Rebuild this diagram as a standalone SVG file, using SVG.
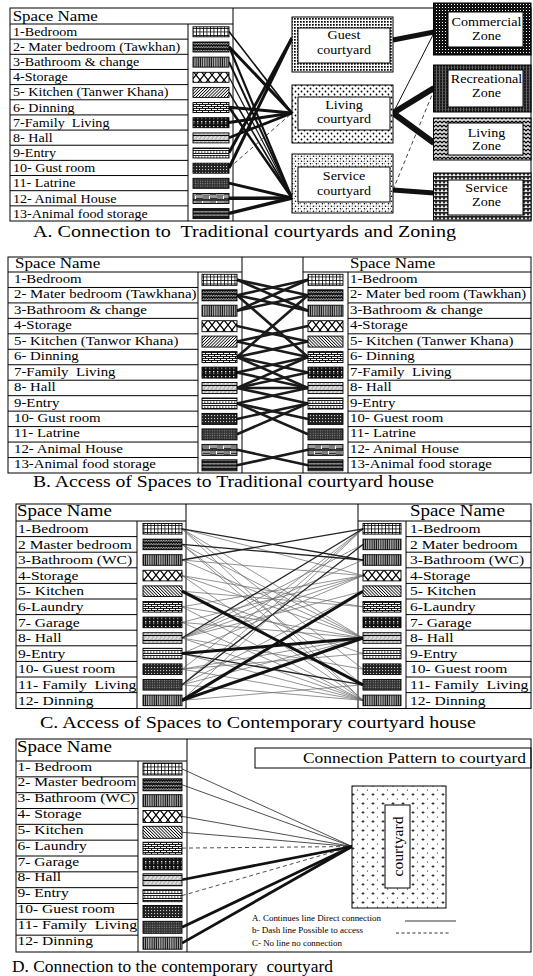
<svg xmlns="http://www.w3.org/2000/svg" width="533" height="976" viewBox="0 0 533 976" font-family="'Liberation Serif', 'Times New Roman', serif">
<style>
.t{font-family:'Liberation Serif','Times New Roman',serif;fill:#000}
.r12{font-size:12.5px}
.r13{font-size:13.5px}
.h15{font-size:15px}
.h16{font-size:16px}
.cap{font-size:16px}
.nm{font-size:12.5px;text-anchor:middle}
.lg{font-size:8px}
.ln{stroke:#000;stroke-width:1;fill:none}
.sw{stroke:#000;stroke-width:.9}
.box{stroke:#000;stroke-width:1}
.inner{fill:#fff;stroke:#000;stroke-width:1}
.ca line{stroke:#111}
.cb line{stroke:#1a1a1a;stroke-width:2.6}
.dash{stroke-dasharray:4 3}
</style>
<defs>
<pattern id="pBed" width="3.5" height="3.5" patternUnits="userSpaceOnUse"><rect width="3.5" height="3.5" fill="#fff"/><path d="M0 .4H3.5M.4 0V3.5" stroke="#000" stroke-width=".8"/></pattern>
<pattern id="pMas" width="5" height="3.5" patternUnits="userSpaceOnUse"><rect width="5" height="3.5" fill="#111"/><path d="M0 2.5L1.2 1L2.5 2.5L3.7 1L5 2.5" fill="none" stroke="#fff" stroke-width=".7"/></pattern>
<pattern id="pBath" width="2.2" height="12" patternUnits="userSpaceOnUse"><rect width="2.2" height="12" fill="#111"/><rect x="1" width=".8" height="12" fill="#fff"/></pattern>
<pattern id="pSto" width="8" height="10" patternUnits="userSpaceOnUse"><rect width="8" height="10" fill="#fff"/><path d="M0 0L8 10M8 0L0 10" stroke="#000" stroke-width="1.2"/></pattern>
<pattern id="pKit" width="2.2" height="2.2" patternUnits="userSpaceOnUse" patternTransform="rotate(45)"><rect width="2.2" height="2.2" fill="#fff"/><rect width=".8" height="2.2" fill="#000"/></pattern>
<pattern id="pKit2" width="2.2" height="2.2" patternUnits="userSpaceOnUse" patternTransform="rotate(-45)"><rect width="2.2" height="2.2" fill="#fff"/><rect width=".8" height="2.2" fill="#000"/></pattern>
<pattern id="pDin" width="6" height="4" patternUnits="userSpaceOnUse"><rect width="6" height="4" fill="#fff"/><path d="M0 .5H6M0 2.5H6M1.5 .5V2.5M4.5 2.5V4.5" fill="none" stroke="#000" stroke-width=".9"/></pattern>
<pattern id="pFam" width="4" height="5" patternUnits="userSpaceOnUse"><rect width="4" height="5" fill="#111"/><rect x="1" y="1" width="1.4" height="1.4" fill="#ddd"/><rect x="1" y="3.2" width="1.4" height="1" fill="#888"/></pattern>
<pattern id="pHall" width="8" height="5" patternUnits="userSpaceOnUse"><rect width="8" height="5" fill="#bbb"/><path d="M0 .5H8" stroke="#000"/><path d="M1 4.2L4 1.5M5 4.2L8 1.5" stroke="#fff" stroke-width="1"/></pattern>
<pattern id="pEnt" width="3" height="5" patternUnits="userSpaceOnUse"><rect width="3" height="5" fill="#fff"/><path d="M0 .5H3M0 3.5H3" stroke="#000" stroke-width=".9"/><rect y="1.6" width="1.5" height=".9" fill="#000"/></pattern>
<pattern id="pGue" width="3" height="3" patternUnits="userSpaceOnUse"><rect width="3" height="3" fill="#222"/><rect x="1" y="1" width="1.1" height="1.1" fill="#ccc"/></pattern>
<pattern id="pLat" width="2.4" height="2.4" patternUnits="userSpaceOnUse"><rect width="2.4" height="2.4" fill="#333"/><circle cx="1.2" cy="1.2" r=".55" fill="#999"/></pattern>
<pattern id="pAni" width="14" height="10" patternUnits="userSpaceOnUse"><rect width="14" height="10" fill="#fff"/><path d="M1 1V5M3 1V5M5 1V5M8 5.5V9.5M10 5.5V9.5M12 5.5V9.5" stroke="#000"/><path d="M0 .5H14M0 5H14M0 9.5H14M7 2H14M7 3.5H14M0 7H7M0 8.5H7" stroke="#000" stroke-width=".8"/></pattern>
<pattern id="pFood" width="4" height="3.5" patternUnits="userSpaceOnUse"><rect width="4" height="3.5" fill="#111"/><path d="M0 2.5L1 1L2 2.5L3 1L4 2.5" stroke="#fff" stroke-width=".6" fill="none"/></pattern>
<pattern id="cG" width="3" height="3" patternUnits="userSpaceOnUse"><rect width="3" height="3" fill="#fff"/><rect width="1.7" height="1.7" fill="#000"/></pattern>
<pattern id="cL" width="6" height="6" patternUnits="userSpaceOnUse"><rect width="6" height="6" fill="#fff"/><circle cx="1.5" cy="1.5" r=".9" fill="#000"/><circle cx="4.5" cy="4.5" r=".9" fill="#000"/></pattern>
<pattern id="cS" width="6" height="5" patternUnits="userSpaceOnUse"><rect width="6" height="5" fill="#fff"/><circle cx="1.5" cy="1.2" r=".8" fill="#000"/><circle cx="4.5" cy="3.7" r=".8" fill="#000"/><path d="M3.5 1.2H5M0 3.7H1" stroke="#000" stroke-width=".5"/></pattern>
<pattern id="zC" width="3" height="3" patternUnits="userSpaceOnUse"><rect width="3" height="3" fill="#111"/><rect x="1" y="1" width="1" height="1" fill="#fff"/></pattern>
<pattern id="zR" width="3" height="3" patternUnits="userSpaceOnUse"><rect width="3" height="3" fill="#1a1a1a"/><rect x="1" width=".8" height="3" fill="#777"/><rect y="1" width="3" height=".5" fill="#555"/></pattern>
<pattern id="zL" width="4" height="4" patternUnits="userSpaceOnUse"><rect width="4" height="4" fill="#ddd"/><path d="M0 1L2 3L4 1" stroke="#000" stroke-width="1.2" fill="none"/></pattern>
<pattern id="zS" width="4" height="4" patternUnits="userSpaceOnUse"><rect width="4" height="4" fill="#222"/><path d="M0 4L2 1L4 4Z" fill="#eee"/></pattern>
<pattern id="cD" width="10" height="9" patternUnits="userSpaceOnUse"><rect width="10" height="9" fill="#fff"/><path d="M1.5 2.5H4.5M3 1V4" stroke="#000" stroke-width=".7"/><circle cx="7.5" cy="7" r=".6" fill="#000"/></pattern>
</defs>
<rect width="533" height="976" fill="#fff"/>

<!-- ============ SECTION A ============ -->
<g id="secA-frame">
<rect class="ln" x="10" y="8" width="521" height="213"/>
<path class="ln" d="M188 24V221M233 8V221M10 24H233M10 39.15H188M10 54.31H188M10 69.46H188M10 84.62H188M10 99.77H188M10 114.92H188M10 130.08H188M10 145.23H188M10 160.38H188M10 175.54H188M10 190.69H188M10 205.85H188"/>
<text class="t h15" transform="translate(12.7 20.7) scale(1.13 1)">Space Name</text>
</g>
<g id="secA-connectors" class="ca">
<line x1="229" y1="31.6" x2="292" y2="113" stroke-width="1.6"/>
<line x1="229" y1="46.7" x2="292" y2="113" stroke-width="3"/>
<line x1="229" y1="46.7" x2="292" y2="198" stroke-width="2.2"/>
<line x1="229" y1="61.9" x2="292" y2="198" stroke-width="2"/>
<line x1="229" y1="77.0" x2="292" y2="198" stroke-width="1.2"/>
<line x1="229" y1="92.2" x2="292" y2="198" stroke-width="1.6"/>
<line x1="229" y1="107.3" x2="292" y2="113" stroke-width="3"/>
<line x1="229" y1="107.3" x2="292" y2="198" stroke-width="2.5"/>
<line x1="229" y1="122.5" x2="292" y2="113" stroke-width="3"/>
<line x1="229" y1="137.7" x2="292" y2="113" stroke-width="2.8"/>
<line x1="229" y1="152.8" x2="292" y2="38" stroke-width="3"/>
<line x1="229" y1="168.0" x2="292" y2="38" stroke-width="3"/>
<line x1="229" y1="168.0" x2="292" y2="113" stroke-width=".8" class="dash"/>
<line x1="229" y1="183.1" x2="292" y2="198" stroke-width="3"/>
<line x1="229" y1="198.3" x2="292" y2="198" stroke-width="3.5"/>
<line x1="229" y1="213.4" x2="292" y2="198" stroke-width="3.5"/>
<line x1="393" y1="40" x2="434" y2="32" stroke-width="5"/>
<line x1="393" y1="113" x2="434" y2="33" stroke-width="1"/>
<line x1="393" y1="113" x2="434" y2="88" stroke-width="6"/>
<line x1="393" y1="113" x2="434" y2="143" stroke-width="6"/>
<line x1="393" y1="190" x2="434" y2="193" stroke-width="5"/>
<line x1="393" y1="190" x2="434" y2="90" stroke-width=".8" class="dash"/>
</g>
<g id="A1"><text class="t r12" transform="translate(13 35.8) scale(1.13 1)">1-Bedroom</text><rect class="sw" x="193" y="26.8" width="36" height="10" fill="url(#pBed)"/></g>
<g id="A2"><text class="t r12" transform="translate(13 51.0) scale(1.13 1)">2- Mater bedroom (Tawkhan)</text><rect class="sw" x="193" y="42.0" width="36" height="10" fill="url(#pMas)"/></g>
<g id="A3"><text class="t r12" transform="translate(13 66.1) scale(1.13 1)">3-Bathroom &amp; change</text><rect class="sw" x="193" y="57.1" width="36" height="10" fill="url(#pBath)"/></g>
<g id="A4"><text class="t r12" transform="translate(13 81.3) scale(1.13 1)">4-Storage</text><rect class="sw" x="193" y="72.3" width="36" height="10" fill="url(#pSto)"/></g>
<g id="A5"><text class="t r12" transform="translate(13 96.4) scale(1.13 1)">5- Kitchen (Tanwer Khana)</text><rect class="sw" x="193" y="87.4" width="36" height="10" fill="url(#pKit)"/></g>
<g id="A6"><text class="t r12" transform="translate(13 111.6) scale(1.13 1)">6- Dinning</text><rect class="sw" x="193" y="102.6" width="36" height="10" fill="url(#pDin)"/></g>
<g id="A7"><text class="t r12" transform="translate(13 126.7) scale(1.13 1)">7-Family&#160; Living</text><rect class="sw" x="193" y="117.7" width="36" height="10" fill="url(#pFam)"/></g>
<g id="A8"><text class="t r12" transform="translate(13 141.9) scale(1.13 1)">8- Hall</text><rect class="sw" x="193" y="132.9" width="36" height="10" fill="url(#pHall)"/></g>
<g id="A9"><text class="t r12" transform="translate(13 157.0) scale(1.13 1)">9-Entry</text><rect class="sw" x="193" y="148.0" width="36" height="10" fill="url(#pEnt)"/></g>
<g id="A10"><text class="t r12" transform="translate(13 172.2) scale(1.13 1)">10- Gust room</text><rect class="sw" x="193" y="163.2" width="36" height="10" fill="url(#pGue)"/></g>
<g id="A11"><text class="t r12" transform="translate(13 187.3) scale(1.13 1)">11- Latrine</text><rect class="sw" x="193" y="178.3" width="36" height="10" fill="url(#pLat)"/></g>
<g id="A12"><text class="t r12" transform="translate(13 202.5) scale(1.13 1)">12- Animal House</text><rect class="sw" x="193" y="193.5" width="36" height="10" fill="url(#pAni)"/></g>
<g id="A13"><text class="t r12" transform="translate(13 217.6) scale(1.13 1)">13-Animal food storage</text><rect class="sw" x="193" y="208.6" width="36" height="10" fill="url(#pFood)"/></g>

<g id="guest-courtyard"><rect class="box" x="292" y="17" width="101" height="55" fill="url(#cG)"/><rect class="inner" x="298" y="28" width="92" height="35"/><text class="t nm" transform="translate(344 39.3) scale(1.13 1)">Guest</text><text class="t nm" transform="translate(344 53.5) scale(1.13 1)">courtyard</text></g>
<g id="living-courtyard"><rect class="box" x="292" y="85" width="101" height="58" fill="url(#cL)"/><rect class="inner" x="298" y="97" width="92" height="33"/><text class="t nm" transform="translate(344 108.5) scale(1.13 1)">Living</text><text class="t nm" transform="translate(344 123) scale(1.13 1)">courtyard</text></g>
<g id="service-courtyard"><rect class="box" x="292" y="154" width="101" height="59" fill="url(#cS)"/><rect class="inner" x="298" y="167" width="92" height="35"/><text class="t nm" transform="translate(344 180) scale(1.13 1)">Service</text><text class="t nm" transform="translate(344 194.5) scale(1.13 1)">courtyard</text></g>
<g id="commercial-zone"><rect class="box" x="433.5" y="3" width="97.5" height="52" fill="url(#zC)"/><rect class="inner" x="448" y="12" width="75" height="35"/><text class="t nm" transform="translate(486.5 26) scale(1.13 1)">Commercial</text><text class="t nm" transform="translate(486.5 39.5) scale(1.13 1)">Zone</text></g>
<g id="recreational-zone"><rect class="box" x="433.5" y="65" width="97.5" height="47" fill="url(#zR)"/><rect class="inner" x="448" y="70" width="75" height="37"/><text class="t nm" transform="translate(486.5 83.3) scale(1.13 1)">Recreational</text><text class="t nm" transform="translate(486.5 97) scale(1.13 1)">Zone</text></g>
<g id="living-zone"><rect class="box" x="433.5" y="118" width="97.5" height="42" fill="url(#zL)"/><rect class="inner" x="448" y="123" width="75" height="32"/><text class="t nm" transform="translate(486.5 136.5) scale(1.13 1)">Living</text><text class="t nm" transform="translate(486.5 150) scale(1.13 1)">Zone</text></g>
<g id="service-zone"><rect class="box" x="433.5" y="173" width="97.5" height="47" fill="url(#zS)"/><rect class="inner" x="448" y="180" width="75" height="35"/><text class="t nm" transform="translate(486.5 191.7) scale(1.13 1)">Service</text><text class="t nm" transform="translate(486.5 205.5) scale(1.13 1)">Zone</text></g>
<text class="t cap" x="33" y="237" textLength="423" lengthAdjust="spacingAndGlyphs">A. Connection to&#160; Traditional courtyards and Zoning</text>

<!-- ============ SECTION B ============ -->
<g id="secB-frame">
<rect class="ln" x="8" y="257" width="523" height="216"/>
<path class="ln" d="M198 272V473M242 257V473M303 257V473M348 272V473M8 272H242M303 272H531M8 287.46H198M8 302.92H198M8 318.38H198M8 333.84H198M8 349.3H198M8 364.76H198M8 380.22H198M8 395.68H198M8 411.14H198M8 426.6H198M8 442.06H198M8 457.52H198M348 287.46H531M348 302.92H531M348 318.38H531M348 333.84H531M348 349.3H531M348 364.76H531M348 380.22H531M348 395.68H531M348 411.14H531M348 426.6H531M348 442.06H531M348 457.52H531"/>
<text class="t h15" transform="translate(15 268.3) scale(1.13 1)">Space Name</text>
<text class="t h15" transform="translate(350 268.3) scale(1.13 1)">Space Name</text>
</g>
<g id="secB-connectors" class="cb">
<line x1="237" y1="279.7" x2="308" y2="310.7"/>
<line x1="237" y1="310.7" x2="308" y2="279.7"/>
<line x1="237" y1="295.2" x2="308" y2="310.7"/>
<line x1="237" y1="310.7" x2="308" y2="295.2"/>
<line x1="237" y1="279.7" x2="308" y2="295.2"/>
<line x1="237" y1="295.2" x2="308" y2="279.7"/>
<line x1="237" y1="326.1" x2="308" y2="341.6"/>
<line x1="237" y1="341.6" x2="308" y2="326.1"/>
<line x1="237" y1="341.6" x2="308" y2="357.0"/>
<line x1="237" y1="357.0" x2="308" y2="341.6"/>
<line x1="237" y1="357.0" x2="308" y2="372.5"/>
<line x1="237" y1="372.5" x2="308" y2="357.0"/>
<line x1="237" y1="357.0" x2="308" y2="388.0"/>
<line x1="237" y1="388.0" x2="308" y2="357.0"/>
<line x1="237" y1="372.5" x2="308" y2="388.0"/>
<line x1="237" y1="388.0" x2="308" y2="372.5"/>
<line x1="237" y1="388.0" x2="308" y2="388.0"/>
<line x1="237" y1="388.0" x2="308" y2="403.4"/>
<line x1="237" y1="403.4" x2="308" y2="388.0"/>
<line x1="237" y1="403.4" x2="308" y2="418.9"/>
<line x1="237" y1="418.9" x2="308" y2="403.4"/>
<line x1="237" y1="403.4" x2="308" y2="434.3"/>
<line x1="237" y1="434.3" x2="308" y2="403.4"/>
<line x1="237" y1="449.8" x2="308" y2="465.3"/>
<line x1="237" y1="465.3" x2="308" y2="449.8"/>
<line x1="237" y1="295.2" x2="308" y2="357.0"/>
<line x1="237" y1="357.0" x2="308" y2="295.2"/>
</g>
<g id="BL1"><text class="t r12" transform="translate(14 282.8) scale(1.19 1)">1-Bedroom</text><rect class="sw" x="202" y="274.3" width="35" height="11" fill="url(#pBed)"/></g>
<g id="BL2"><text class="t r12" transform="translate(14 298.3) scale(1.19 1)">2- Mater bedroom (Tawkhana)</text><rect class="sw" x="202" y="289.8" width="35" height="11" fill="url(#pMas)"/></g>
<g id="BL3"><text class="t r12" transform="translate(14 313.7) scale(1.19 1)">3-Bathroom &amp; change</text><rect class="sw" x="202" y="305.2" width="35" height="11" fill="url(#pBath)"/></g>
<g id="BL4"><text class="t r12" transform="translate(14 329.2) scale(1.19 1)">4-Storage</text><rect class="sw" x="202" y="320.7" width="35" height="11" fill="url(#pSto)"/></g>
<g id="BL5"><text class="t r12" transform="translate(14 344.6) scale(1.19 1)">5- Kitchen (Tanwor Khana)</text><rect class="sw" x="202" y="336.1" width="35" height="11" fill="url(#pKit)"/></g>
<g id="BL6"><text class="t r12" transform="translate(14 360.1) scale(1.19 1)">6- Dinning</text><rect class="sw" x="202" y="351.6" width="35" height="11" fill="url(#pDin)"/></g>
<g id="BL7"><text class="t r12" transform="translate(14 375.6) scale(1.19 1)">7-Family&#160; Living</text><rect class="sw" x="202" y="367.1" width="35" height="11" fill="url(#pFam)"/></g>
<g id="BL8"><text class="t r12" transform="translate(14 391.0) scale(1.19 1)">8- Hall</text><rect class="sw" x="202" y="382.5" width="35" height="11" fill="url(#pHall)"/></g>
<g id="BL9"><text class="t r12" transform="translate(14 406.5) scale(1.19 1)">9-Entry</text><rect class="sw" x="202" y="398.0" width="35" height="11" fill="url(#pEnt)"/></g>
<g id="BL10"><text class="t r12" transform="translate(14 421.9) scale(1.19 1)">10- Gust room</text><rect class="sw" x="202" y="413.4" width="35" height="11" fill="url(#pGue)"/></g>
<g id="BL11"><text class="t r12" transform="translate(14 437.4) scale(1.19 1)">11- Latrine</text><rect class="sw" x="202" y="428.9" width="35" height="11" fill="url(#pLat)"/></g>
<g id="BL12"><text class="t r12" transform="translate(14 452.9) scale(1.19 1)">12- Animal House</text><rect class="sw" x="202" y="444.4" width="35" height="11" fill="url(#pAni)"/></g>
<g id="BL13"><text class="t r12" transform="translate(14 468.3) scale(1.19 1)">13-Animal food storage</text><rect class="sw" x="202" y="459.8" width="35" height="11" fill="url(#pFood)"/></g>
<g id="BR1"><rect class="sw" x="308" y="274.3" width="35" height="11" fill="url(#pBed)"/><text class="t r12" transform="translate(350 282.8) scale(1.19 1)">1-Bedroom</text></g>
<g id="BR2"><rect class="sw" x="308" y="289.8" width="35" height="11" fill="url(#pMas)"/><text class="t r12" transform="translate(350 298.3) scale(1.19 1)" textLength="148" lengthAdjust="spacingAndGlyphs">2- Mater bed room (Tawkhan)</text></g>
<g id="BR3"><rect class="sw" x="308" y="305.2" width="35" height="11" fill="url(#pBath)"/><text class="t r12" transform="translate(350 313.7) scale(1.19 1)">3-Bathroom &amp; change</text></g>
<g id="BR4"><rect class="sw" x="308" y="320.7" width="35" height="11" fill="url(#pSto)"/><text class="t r12" transform="translate(350 329.2) scale(1.19 1)">4-Storage</text></g>
<g id="BR5"><rect class="sw" x="308" y="336.1" width="35" height="11" fill="url(#pKit2)"/><text class="t r12" transform="translate(350 344.6) scale(1.19 1)">5- Kitchen (Tanwer Khana)</text></g>
<g id="BR6"><rect class="sw" x="308" y="351.6" width="35" height="11" fill="url(#pDin)"/><text class="t r12" transform="translate(350 360.1) scale(1.19 1)">6- Dinning</text></g>
<g id="BR7"><rect class="sw" x="308" y="367.1" width="35" height="11" fill="url(#pFam)"/><text class="t r12" transform="translate(350 375.6) scale(1.19 1)">7-Family&#160; Living</text></g>
<g id="BR8"><rect class="sw" x="308" y="382.5" width="35" height="11" fill="url(#pHall)"/><text class="t r12" transform="translate(350 391.0) scale(1.19 1)">8- Hall</text></g>
<g id="BR9"><rect class="sw" x="308" y="398.0" width="35" height="11" fill="url(#pEnt)"/><text class="t r12" transform="translate(350 406.5) scale(1.19 1)">9-Entry</text></g>
<g id="BR10"><rect class="sw" x="308" y="413.4" width="35" height="11" fill="url(#pGue)"/><text class="t r12" transform="translate(350 421.9) scale(1.19 1)">10- Guest room</text></g>
<g id="BR11"><rect class="sw" x="308" y="428.9" width="35" height="11" fill="url(#pLat)"/><text class="t r12" transform="translate(350 437.4) scale(1.19 1)">11- Latrine</text></g>
<g id="BR12"><rect class="sw" x="308" y="444.4" width="35" height="11" fill="url(#pAni)"/><text class="t r12" transform="translate(350 452.9) scale(1.19 1)">12- Animal House</text></g>
<g id="BR13"><rect class="sw" x="308" y="459.8" width="35" height="11" fill="url(#pFood)"/><text class="t r12" transform="translate(350 468.3) scale(1.19 1)">13-Animal food storage</text></g>
<text class="t cap" x="33" y="487" textLength="401" lengthAdjust="spacingAndGlyphs">B. Access of Spaces to Traditional courtyard house</text>

<!-- ============ SECTION C ============ -->
<g id="secC-frame">
<rect class="ln" x="16" y="504" width="515" height="204.5"/>
<path class="ln" d="M137 521V708.5M186 504V708.5M358 504V708.5M406 521V708.5M16 521H186M358 521H531M16 536.6H137M16 552.2H137M16 567.8H137M16 583.4H137M16 599H137M16 614.6H137M16 630.2H137M16 645.8H137M16 661.4H137M16 677H137M16 692.6H137M406 536.6H531M406 552.2H531M406 567.8H531M406 583.4H531M406 599H531M406 614.6H531M406 630.2H531M406 645.8H531M406 661.4H531M406 677H531M406 692.6H531"/>
<text class="t h16" transform="translate(17 516) scale(1.18 1)">Space Name</text>
<text class="t h16" transform="translate(410 516) scale(1.18 1)">Space Name</text>
</g>
<g id="secC-connectors">
<g stroke="#666" stroke-width=".7">
<line x1="182" y1="528.8" x2="363" y2="575.6"/>
<line x1="182" y1="528.8" x2="363" y2="638"/>
<line x1="182" y1="528.8" x2="363" y2="669.2"/>
<line x1="182" y1="528.8" x2="363" y2="700.4"/>
<line x1="182" y1="544.4" x2="363" y2="638"/>
<line x1="182" y1="544.4" x2="363" y2="684.8"/>
<line x1="182" y1="544.4" x2="363" y2="700.4"/>
<line x1="182" y1="560" x2="363" y2="638"/>
<line x1="182" y1="560" x2="363" y2="575.6"/>
<line x1="182" y1="575.6" x2="363" y2="638"/>
<line x1="182" y1="575.6" x2="363" y2="700.4"/>
<line x1="182" y1="575.6" x2="363" y2="606.8"/>
<line x1="182" y1="591.2" x2="363" y2="606.8"/>
<line x1="182" y1="591.2" x2="363" y2="653.6"/>
<line x1="182" y1="606.8" x2="363" y2="575.6"/>
<line x1="182" y1="606.8" x2="363" y2="638"/>
<line x1="182" y1="606.8" x2="363" y2="700.4"/>
<line x1="182" y1="622.4" x2="363" y2="638"/>
<line x1="182" y1="622.4" x2="363" y2="575.6"/>
<line x1="182" y1="622.4" x2="363" y2="700.4"/>
<line x1="182" y1="638" x2="363" y2="544.4"/>
<line x1="182" y1="638" x2="363" y2="560"/>
<line x1="182" y1="638" x2="363" y2="575.6"/>
<line x1="182" y1="638" x2="363" y2="591.2"/>
<line x1="182" y1="638" x2="363" y2="669.2"/>
<line x1="182" y1="638" x2="363" y2="700.4"/>
<line x1="182" y1="653.6" x2="363" y2="575.6"/>
<line x1="182" y1="653.6" x2="363" y2="700.4"/>
<line x1="182" y1="669.2" x2="363" y2="528.8"/>
<line x1="182" y1="669.2" x2="363" y2="638"/>
<line x1="182" y1="669.2" x2="363" y2="700.4"/>
<line x1="182" y1="669.2" x2="363" y2="653.6"/>
<line x1="182" y1="684.8" x2="363" y2="528.8"/>
<line x1="182" y1="684.8" x2="363" y2="591.2"/>
<line x1="182" y1="684.8" x2="363" y2="638"/>
<line x1="182" y1="684.8" x2="363" y2="700.4"/>
<line x1="182" y1="700.4" x2="363" y2="528.8"/>
<line x1="182" y1="700.4" x2="363" y2="684.8"/>
</g>
<g stroke="#222" stroke-width="1.3">
<line x1="182" y1="528.8" x2="363" y2="560"/>
<line x1="182" y1="560" x2="363" y2="528.8"/>
<line x1="182" y1="544.4" x2="363" y2="560"/>
<line x1="182" y1="638" x2="363" y2="528.8"/>
<line x1="182" y1="653.6" x2="363" y2="684.8"/>
<line x1="182" y1="684.8" x2="363" y2="544.4"/>
</g>
<g stroke="#111" stroke-width="3">
<line x1="182" y1="591.2" x2="363" y2="684.8"/>
<line x1="182" y1="700.4" x2="363" y2="591.2"/>
<line x1="182" y1="700.4" x2="363" y2="638"/>
<line x1="182" y1="653.6" x2="363" y2="638"/>
</g>
</g>
<g id="CL1"><text class="t r13" transform="translate(18 533) scale(1.15 1)">1-Bedroom</text><rect class="sw" x="143" y="523.5" width="39" height="10.6" fill="url(#pBed)"/></g>
<g id="CL2"><text class="t r13" transform="translate(18 548.6) scale(1.15 1)">2 Master bedroom</text><rect class="sw" x="143" y="539.1" width="39" height="10.6" fill="url(#pMas)"/></g>
<g id="CL3"><text class="t r13" transform="translate(18 564.2) scale(1.15 1)">3-Bathroom (WC)</text><rect class="sw" x="143" y="554.7" width="39" height="10.6" fill="url(#pBath)"/></g>
<g id="CL4"><text class="t r13" transform="translate(18 579.8) scale(1.15 1)">4-Storage</text><rect class="sw" x="143" y="570.3" width="39" height="10.6" fill="url(#pSto)"/></g>
<g id="CL5"><text class="t r13" transform="translate(18 595.4) scale(1.15 1)">5- Kitchen</text><rect class="sw" x="143" y="585.9" width="39" height="10.6" fill="url(#pKit2)"/></g>
<g id="CL6"><text class="t r13" transform="translate(18 611) scale(1.15 1)">6-Laundry</text><rect class="sw" x="143" y="601.5" width="39" height="10.6" fill="url(#pDin)"/></g>
<g id="CL7"><text class="t r13" transform="translate(18 626.6) scale(1.15 1)">7- Garage</text><rect class="sw" x="143" y="617.1" width="39" height="10.6" fill="url(#pFam)"/></g>
<g id="CL8"><text class="t r13" transform="translate(18 642.2) scale(1.15 1)">8- Hall</text><rect class="sw" x="143" y="632.7" width="39" height="10.6" fill="url(#pHall)"/></g>
<g id="CL9"><text class="t r13" transform="translate(18 657.8) scale(1.15 1)">9-Entry</text><rect class="sw" x="143" y="648.3" width="39" height="10.6" fill="url(#pEnt)"/></g>
<g id="CL10"><text class="t r13" transform="translate(18 673.4) scale(1.15 1)">10- Guest room</text><rect class="sw" x="143" y="663.9" width="39" height="10.6" fill="url(#pGue)"/></g>
<g id="CL11"><text class="t r13" transform="translate(18 689) scale(1.15 1)" textLength="103" lengthAdjust="spacingAndGlyphs">11- Family&#160; Living</text><rect class="sw" x="143" y="679.5" width="39" height="10.6" fill="url(#pLat)"/></g>
<g id="CL12"><text class="t r13" transform="translate(18 704.6) scale(1.15 1)">12- Dinning</text><rect class="sw" x="143" y="695.1" width="39" height="10.6" fill="url(#pBath)"/></g>
<g id="CR1"><rect class="sw" x="363" y="523.5" width="38" height="10.6" fill="url(#pBed)"/><text class="t r13" transform="translate(410 533) scale(1.15 1)">1-Bedroom</text></g>
<g id="CR2"><rect class="sw" x="363" y="539.1" width="38" height="10.6" fill="url(#pBath)"/><text class="t r13" transform="translate(410 548.6) scale(1.15 1)">2 Mater bedroom</text></g>
<g id="CR3"><rect class="sw" x="363" y="554.7" width="38" height="10.6" fill="url(#pBath)"/><text class="t r13" transform="translate(410 564.2) scale(1.15 1)">3-Bathroom (WC)</text></g>
<g id="CR4"><rect class="sw" x="363" y="570.3" width="38" height="10.6" fill="url(#pSto)"/><text class="t r13" transform="translate(410 579.8) scale(1.15 1)">4-Storage</text></g>
<g id="CR5"><rect class="sw" x="363" y="585.9" width="38" height="10.6" fill="url(#pKit2)"/><text class="t r13" transform="translate(410 595.4) scale(1.15 1)">5- Kitchen</text></g>
<g id="CR6"><rect class="sw" x="363" y="601.5" width="38" height="10.6" fill="url(#pDin)"/><text class="t r13" transform="translate(410 611) scale(1.15 1)">6-Laundry</text></g>
<g id="CR7"><rect class="sw" x="363" y="617.1" width="38" height="10.6" fill="url(#pFam)"/><text class="t r13" transform="translate(410 626.6) scale(1.15 1)">7- Garage</text></g>
<g id="CR8"><rect class="sw" x="363" y="632.7" width="38" height="10.6" fill="url(#pHall)"/><text class="t r13" transform="translate(410 642.2) scale(1.15 1)">8- Hall</text></g>
<g id="CR9"><rect class="sw" x="363" y="648.3" width="38" height="10.6" fill="url(#pEnt)"/><text class="t r13" transform="translate(410 657.8) scale(1.15 1)">9-Entry</text></g>
<g id="CR10"><rect class="sw" x="363" y="663.9" width="38" height="10.6" fill="url(#pGue)"/><text class="t r13" transform="translate(410 673.4) scale(1.15 1)">10- Guest room</text></g>
<g id="CR11"><rect class="sw" x="363" y="679.5" width="38" height="10.6" fill="url(#pLat)"/><text class="t r13" transform="translate(410 689) scale(1.15 1)" textLength="103" lengthAdjust="spacingAndGlyphs">11- Family&#160; Living</text></g>
<g id="CR12"><rect class="sw" x="363" y="695.1" width="38" height="10.6" fill="url(#pBath)"/><text class="t r13" transform="translate(410 704.6) scale(1.15 1)">12- Dinning</text></g>
<text class="t cap" x="40" y="728" textLength="436" lengthAdjust="spacingAndGlyphs">C. Access of Spaces to Contemporary courtyard house</text>

<!-- ============ SECTION D ============ -->
<g id="secD-frame">
<rect class="ln" x="16" y="739" width="515" height="213"/>
<path class="ln" d="M138 761V952M187 739V952M16 761H187M16 776.83H138M16 792.67H138M16 808.5H138M16 824.33H138M16 840.17H138M16 856H138M16 871.83H138M16 887.67H138M16 903.5H138M16 919.33H138M16 935.17H138"/>
<text class="t h16" transform="translate(17 751.7) scale(1.18 1)">Space Name</text>
</g>
<g id="pattern-title"><rect class="ln" x="255" y="748" width="276" height="20"/><text class="t" font-size="15" x="303" y="762.5" textLength="223" lengthAdjust="spacingAndGlyphs">Connection Pattern to courtyard</text></g>
<g id="secD-connectors">
<g stroke="#222" stroke-width=".8">
<line x1="182" y1="768.9" x2="352" y2="846.5"/>
<line x1="182" y1="784.75" x2="352" y2="846.5"/>
<line x1="182" y1="816.4" x2="352" y2="846.5"/>
<line x1="182" y1="832.25" x2="352" y2="846.5"/>
<line x1="182" y1="848.1" x2="352" y2="846.5" class="dash"/>
<line x1="182" y1="895.6" x2="352" y2="846.5" class="dash"/>
</g>
<g stroke="#111" stroke-width="2.8">
<line x1="182" y1="879.75" x2="352" y2="846.5"/>
<line x1="182" y1="927.25" x2="352" y2="846.5"/>
<line x1="182" y1="943.1" x2="352" y2="846.5"/>
</g>
</g>
<g id="D1"><text class="t r13" transform="translate(17.5 770.5) scale(1.15 1)">1- Bedroom</text><rect class="sw" x="143" y="763" width="39" height="12" fill="url(#pBed)"/></g>
<g id="D2"><text class="t r13" transform="translate(17.5 786.3) scale(1.15 1)">2- Master bedroom</text><rect class="sw" x="143" y="778.8" width="39" height="12" fill="url(#pMas)"/></g>
<g id="D3"><text class="t r13" transform="translate(17.5 802.2) scale(1.15 1)">3- Bathroom (WC)</text><rect class="sw" x="143" y="794.7" width="39" height="12" fill="url(#pBath)"/></g>
<g id="D4"><text class="t r13" transform="translate(17.5 818) scale(1.15 1)">4- Storage</text><rect class="sw" x="143" y="810.5" width="39" height="12" fill="url(#pSto)"/></g>
<g id="D5"><text class="t r13" transform="translate(17.5 833.8) scale(1.15 1)">5- Kitchen</text><rect class="sw" x="143" y="826.3" width="39" height="12" fill="url(#pKit2)"/></g>
<g id="D6"><text class="t r13" transform="translate(17.5 849.7) scale(1.15 1)">6- Laundry</text><rect class="sw" x="143" y="842.2" width="39" height="12" fill="url(#pDin)"/></g>
<g id="D7"><text class="t r13" transform="translate(17.5 865.5) scale(1.15 1)">7- Garage</text><rect class="sw" x="143" y="858" width="39" height="12" fill="url(#pFam)"/></g>
<g id="D8"><text class="t r13" transform="translate(17.5 881.3) scale(1.15 1)">8- Hall</text><rect class="sw" x="143" y="873.8" width="39" height="12" fill="url(#pHall)"/></g>
<g id="D9"><text class="t r13" transform="translate(17.5 897.2) scale(1.15 1)">9- Entry</text><rect class="sw" x="143" y="889.7" width="39" height="12" fill="url(#pEnt)"/></g>
<g id="D10"><text class="t r13" transform="translate(17.5 913) scale(1.15 1)">10- Guest room</text><rect class="sw" x="143" y="905.5" width="39" height="12" fill="url(#pGue)"/></g>
<g id="D11"><text class="t r13" transform="translate(17.5 928.8) scale(1.15 1)" textLength="104" lengthAdjust="spacingAndGlyphs">11- Family&#160; Living</text><rect class="sw" x="143" y="921.3" width="39" height="12" fill="url(#pLat)"/></g>
<g id="D12"><text class="t r13" transform="translate(17.5 944.7) scale(1.15 1)">12- Dinning</text><rect class="sw" x="143" y="937.2" width="39" height="12" fill="url(#pBath)"/></g>
<g id="courtyard-D"><rect class="box" x="352" y="786" width="94" height="122" fill="url(#cD)"/><rect class="inner" x="385" y="805" width="25" height="83"/><text class="t" font-size="15" text-anchor="middle" transform="translate(403 846.5) rotate(-90)" textLength="60" lengthAdjust="spacingAndGlyphs">courtyard</text></g>
<g id="legend">
<text class="t lg" x="252" y="921" textLength="129" lengthAdjust="spacingAndGlyphs">A. Continues line Direct connection</text>
<text class="t lg" x="252" y="933" textLength="111" lengthAdjust="spacingAndGlyphs">b- Dash line Possible to access</text>
<text class="t lg" x="252" y="946" textLength="90" lengthAdjust="spacingAndGlyphs">C- No line no connection</text>
<line x1="405" y1="921" x2="456" y2="921" stroke="#000" stroke-width=".8"/>
<line x1="396" y1="933" x2="450" y2="933" stroke="#000" stroke-width=".8" stroke-dasharray="3 2.5"/>
</g>
<text class="t cap" x="12" y="972" textLength="321" lengthAdjust="spacingAndGlyphs">D. Connection to the contemporary&#160; courtyard</text>
</svg>
